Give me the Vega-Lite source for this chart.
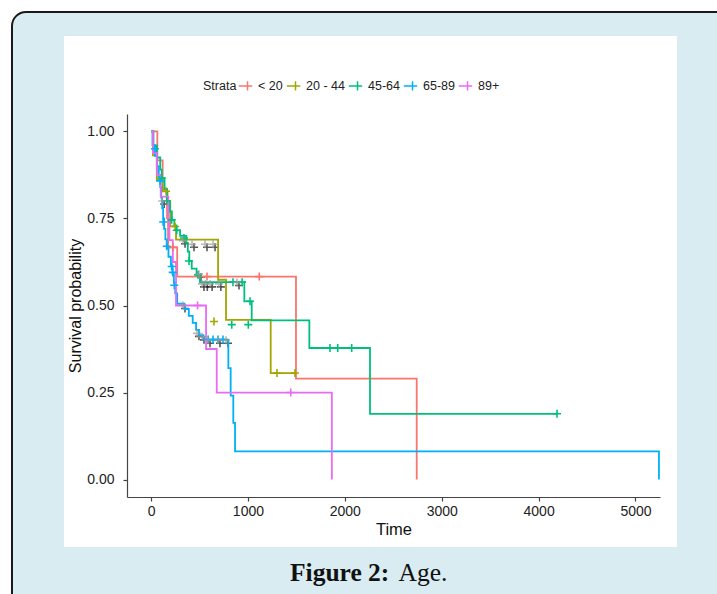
{
  "$schema": "https://vega.github.io/schema/vega-lite/v6.json",
  "width": 533,
  "height": 383,
  "autosize": {"type": "none"},
  "padding": {"left": 127, "top": 114, "right": 57, "bottom": 97},
  "background": "white",
  "config": {"view": {"stroke": null}, "font": "Liberation Sans"},
  "datasets": {
    "curves": [
      {"strata": "< 20", "t": 0, "s": 1}, {"strata": "< 20", "t": 65, "s": 0.917}, {"strata": "< 20", "t": 120, "s": 0.833}, {"strata": "< 20", "t": 165, "s": 0.75}, {"strata": "< 20", "t": 176, "s": 0.667}, {"strata": "< 20", "t": 270, "s": 0.583}, {"strata": "< 20", "t": 1496, "s": 0.29}, {"strata": "< 20", "t": 2742, "s": 0},
      {"strata": "20 - 44", "t": 0, "s": 1}, {"strata": "20 - 44", "t": 20, "s": 0.931}, {"strata": "20 - 44", "t": 60, "s": 0.862}, {"strata": "20 - 44", "t": 120, "s": 0.828}, {"strata": "20 - 44", "t": 170, "s": 0.8}, {"strata": "20 - 44", "t": 198, "s": 0.727}, {"strata": "20 - 44", "t": 258, "s": 0.689}, {"strata": "20 - 44", "t": 692, "s": 0.574}, {"strata": "20 - 44", "t": 774, "s": 0.459}, {"strata": "20 - 44", "t": 1235, "s": 0.306}, {"strata": "20 - 44", "t": 1503, "s": 0.306},
      {"strata": "45-64", "t": 0, "s": 1}, {"strata": "45-64", "t": 25, "s": 0.96}, {"strata": "45-64", "t": 60, "s": 0.925}, {"strata": "45-64", "t": 95, "s": 0.89}, {"strata": "45-64", "t": 110, "s": 0.866}, {"strata": "45-64", "t": 140, "s": 0.835}, {"strata": "45-64", "t": 165, "s": 0.8}, {"strata": "45-64", "t": 195, "s": 0.77}, {"strata": "45-64", "t": 215, "s": 0.746}, {"strata": "45-64", "t": 240, "s": 0.73}, {"strata": "45-64", "t": 262, "s": 0.716}, {"strata": "45-64", "t": 300, "s": 0.7}, {"strata": "45-64", "t": 365, "s": 0.68}, {"strata": "45-64", "t": 380, "s": 0.655}, {"strata": "45-64", "t": 395, "s": 0.628}, {"strata": "45-64", "t": 420, "s": 0.606}, {"strata": "45-64", "t": 470, "s": 0.588}, {"strata": "45-64", "t": 505, "s": 0.567}, {"strata": "45-64", "t": 963, "s": 0.512}, {"strata": "45-64", "t": 1039, "s": 0.457}, {"strata": "45-64", "t": 1634, "s": 0.378}, {"strata": "45-64", "t": 2260, "s": 0.189}, {"strata": "45-64", "t": 4190, "s": 0.189},
      {"strata": "65-89", "t": 0, "s": 1}, {"strata": "65-89", "t": 15, "s": 0.96}, {"strata": "65-89", "t": 40, "s": 0.93}, {"strata": "65-89", "t": 60, "s": 0.9}, {"strata": "65-89", "t": 80, "s": 0.87}, {"strata": "65-89", "t": 95, "s": 0.84}, {"strata": "65-89", "t": 105, "s": 0.81}, {"strata": "65-89", "t": 115, "s": 0.78}, {"strata": "65-89", "t": 125, "s": 0.75}, {"strata": "65-89", "t": 135, "s": 0.72}, {"strata": "65-89", "t": 148, "s": 0.69}, {"strata": "65-89", "t": 162, "s": 0.665}, {"strata": "65-89", "t": 180, "s": 0.64}, {"strata": "65-89", "t": 205, "s": 0.615}, {"strata": "65-89", "t": 222, "s": 0.59}, {"strata": "65-89", "t": 236, "s": 0.565}, {"strata": "65-89", "t": 250, "s": 0.535}, {"strata": "65-89", "t": 270, "s": 0.505}, {"strata": "65-89", "t": 345, "s": 0.49}, {"strata": "65-89", "t": 390, "s": 0.47}, {"strata": "65-89", "t": 430, "s": 0.45}, {"strata": "65-89", "t": 465, "s": 0.43}, {"strata": "65-89", "t": 495, "s": 0.415}, {"strata": "65-89", "t": 540, "s": 0.402}, {"strata": "65-89", "t": 798, "s": 0.32}, {"strata": "65-89", "t": 822, "s": 0.241}, {"strata": "65-89", "t": 849, "s": 0.163}, {"strata": "65-89", "t": 867, "s": 0.081}, {"strata": "65-89", "t": 5242, "s": 0},
      {"strata": "89+", "t": 0, "s": 1}, {"strata": "89+", "t": 20, "s": 0.938}, {"strata": "89+", "t": 60, "s": 0.875}, {"strata": "89+", "t": 100, "s": 0.8125}, {"strata": "89+", "t": 178, "s": 0.75}, {"strata": "89+", "t": 190, "s": 0.6875}, {"strata": "89+", "t": 225, "s": 0.625}, {"strata": "89+", "t": 258, "s": 0.5}, {"strata": "89+", "t": 568, "s": 0.375}, {"strata": "89+", "t": 678, "s": 0.25}, {"strata": "89+", "t": 1866, "s": 0}
    ],
    "censor": [
      {"strata": "< 20", "t": 227, "s": 0.667}, {"strata": "< 20", "t": 578, "s": 0.583}, {"strata": "< 20", "t": 1117, "s": 0.583},
      {"strata": "20 - 44", "t": 155, "s": 0.828}, {"strata": "20 - 44", "t": 248, "s": 0.727}, {"strata": "20 - 44", "t": 650, "s": 0.454}, {"strata": "20 - 44", "t": 1300, "s": 0.306}, {"strata": "20 - 44", "t": 1486, "s": 0.306},
      {"strata": "45-64", "t": 110, "s": 0.866}, {"strata": "45-64", "t": 162, "s": 0.8}, {"strata": "45-64", "t": 213, "s": 0.746}, {"strata": "45-64", "t": 265, "s": 0.716}, {"strata": "45-64", "t": 340, "s": 0.694}, {"strata": "45-64", "t": 392, "s": 0.628}, {"strata": "45-64", "t": 485, "s": 0.588}, {"strata": "45-64", "t": 846, "s": 0.567}, {"strata": "45-64", "t": 940, "s": 0.567}, {"strata": "45-64", "t": 1022, "s": 0.512}, {"strata": "45-64", "t": 833, "s": 0.445}, {"strata": "45-64", "t": 1004, "s": 0.445}, {"strata": "45-64", "t": 1847, "s": 0.378}, {"strata": "45-64", "t": 1927, "s": 0.378}, {"strata": "45-64", "t": 2071, "s": 0.378}, {"strata": "45-64", "t": 4190, "s": 0.189},
      {"strata": "65-89", "t": 41, "s": 0.95}, {"strata": "65-89", "t": 93, "s": 0.858}, {"strata": "65-89", "t": 125, "s": 0.74}, {"strata": "65-89", "t": 162, "s": 0.67}, {"strata": "65-89", "t": 213, "s": 0.612}, {"strata": "65-89", "t": 224, "s": 0.595}, {"strata": "65-89", "t": 240, "s": 0.558}, {"strata": "65-89", "t": 590, "s": 0.402}, {"strata": "65-89", "t": 640, "s": 0.402}, {"strata": "65-89", "t": 691, "s": 0.402}, {"strata": "65-89", "t": 743, "s": 0.402},
      {"strata": "89+", "t": 480, "s": 0.5}, {"strata": "89+", "t": 1442, "s": 0.25}
    ],
    "overlap": [
      {"t": 115, "s": 0.8}, {"t": 330, "s": 0.686}, {"t": 423, "s": 0.676}, {"t": 557, "s": 0.676}, {"t": 640, "s": 0.676},
      {"t": 495, "s": 0.59}, {"t": 526, "s": 0.562}, {"t": 560, "s": 0.562}, {"t": 610, "s": 0.562}, {"t": 700, "s": 0.562}, {"t": 887, "s": 0.566},
      {"t": 330, "s": 0.5}, {"t": 474, "s": 0.42}, {"t": 526, "s": 0.41}, {"t": 588, "s": 0.4}, {"t": 691, "s": 0.4}, {"t": 774, "s": 0.4}
    ],
    "caption": [{"bold": "Figure 2:", "rest": "Age."}]
  },
  "layer": [
    {
      "data": {"name": "caption"},
      "mark": {"type": "rect", "fill": "#d9ecf2", "stroke": "#1a1a1a", "strokeWidth": 2, "cornerRadius": 14},
      "encoding": {
        "x": {"datum": -1435, "type": "quantitative", "scale": {"domain": [-248, 5253], "nice": false, "zero": false}, "title": "Time"},
        "x2": {"datum": 6200},
        "y": {"datum": 1.343, "type": "quantitative", "scale": {"domain": [-0.05, 1.05], "nice": false, "zero": false}, "title": "Survival probability"},
        "y2": {"datum": -0.45}
      }
    },
    {
      "data": {"name": "caption"},
      "mark": {"type": "rect", "fill": "white"},
      "encoding": {
        "x": {"datum": -898, "type": "quantitative", "title": "Time"},
        "x2": {"datum": 5428},
        "y": {"datum": 1.274, "type": "quantitative", "title": "Survival probability"},
        "y2": {"datum": -0.1937}
      }
    },
    {
      "data": {"name": "caption"},
      "mark": {"type": "text", "font": "Liberation Serif", "fontSize": 25.5, "fontWeight": "bold", "align": "left", "baseline": "alphabetic", "color": "#111"},
      "encoding": {
        "x": {"datum": 1434, "type": "quantitative", "title": "Time"},
        "y": {"datum": -0.29, "type": "quantitative", "title": "Survival probability"},
        "text": {"field": "bold"}
      }
    },
    {
      "data": {"name": "caption"},
      "mark": {"type": "text", "font": "Liberation Serif", "fontSize": 25.5, "fontWeight": "normal", "align": "left", "baseline": "alphabetic", "color": "#111"},
      "encoding": {
        "x": {"datum": 2555, "type": "quantitative", "title": "Time"},
        "y": {"datum": -0.29, "type": "quantitative", "title": "Survival probability"},
        "text": {"field": "rest"}
      }
    },
    {
      "data": {"name": "overlap"},
      "mark": {"type": "point", "shape": "M-1,0H1M0,-1V1", "filled": false, "size": 64, "strokeWidth": 1.6, "color": "#111", "xOffset": 2, "yOffset": 3},
      "encoding": {
        "x": {"field": "t", "type": "quantitative", "title": "Time"},
        "y": {"field": "s", "type": "quantitative", "title": "Survival probability"}
      }
    },
    {
      "data": {"name": "curves"},
      "mark": {"type": "line", "interpolate": "step-after", "strokeWidth": 1.8},
      "encoding": {
        "x": {"field": "t", "type": "quantitative", "title": "Time",
          "axis": {"values": [0, 1000, 2000, 3000, 4000, 5000], "format": "d", "grid": false, "zindex": 1, "labelFontSize": 14, "labelColor": "#222", "tickColor": "#444", "domainColor": "#444", "domainWidth": 1.2, "tickWidth": 1.2, "tickSize": 4, "labelPadding": 3, "titleFontSize": 16.5, "titleFontWeight": "normal", "titleColor": "#111", "titlePadding": 3, "labelFlush": false}},
        "y": {"field": "s", "type": "quantitative", "title": "Survival probability",
          "axis": {"values": [0, 0.25, 0.5, 0.75, 1], "format": ".2f", "grid": false, "zindex": 1, "labelFontSize": 14, "labelColor": "#222", "tickColor": "#444", "domainColor": "#444", "domainWidth": 1.2, "tickWidth": 1.2, "tickSize": 4, "labelPadding": 9, "titleFontSize": 16, "titleFontWeight": "normal", "titleColor": "#111", "titlePadding": 3, "labelFlush": false}},
        "color": {"field": "strata", "type": "nominal",
          "scale": {"domain": ["< 20", "20 - 44", "45-64", "65-89", "89+"], "range": ["#F8766D", "#A3A500", "#00BF7D", "#00B0F6", "#E76BF3"]},
          "legend": {"orient": "none", "legendX": 76, "legendY": -36, "direction": "horizontal", "title": "Strata", "titleOrient": "left", "titleFontWeight": "normal", "titleFontSize": 12.5, "titleColor": "#222", "titlePadding": 1, "labelFontSize": 12.5, "labelColor": "#222", "symbolType": "M-1,0H1M0.3,-0.7V0.7", "symbolSize": 180, "symbolStrokeWidth": 1.5, "labelOffset": 5, "columnPadding": 0, "zindex": 2}}
      }
    },
    {
      "data": {"name": "censor"},
      "mark": {"type": "point", "shape": "M-1,0H1M0,-1V1", "filled": false, "size": 64, "strokeWidth": 1.6, "opacity": 1},
      "encoding": {
        "x": {"field": "t", "type": "quantitative", "title": "Time"},
        "y": {"field": "s", "type": "quantitative", "title": "Survival probability"},
        "color": {"field": "strata", "type": "nominal"}
      }
    },
    {
      "data": {"name": "overlap"},
      "mark": {"type": "point", "shape": "M-1,0H1M0,-1V1", "filled": false, "size": 64, "strokeWidth": 1.6, "color": "#9a9a9a"},
      "encoding": {
        "x": {"field": "t", "type": "quantitative", "title": "Time"},
        "y": {"field": "s", "type": "quantitative", "title": "Survival probability"}
      }
    }
  ]
}
